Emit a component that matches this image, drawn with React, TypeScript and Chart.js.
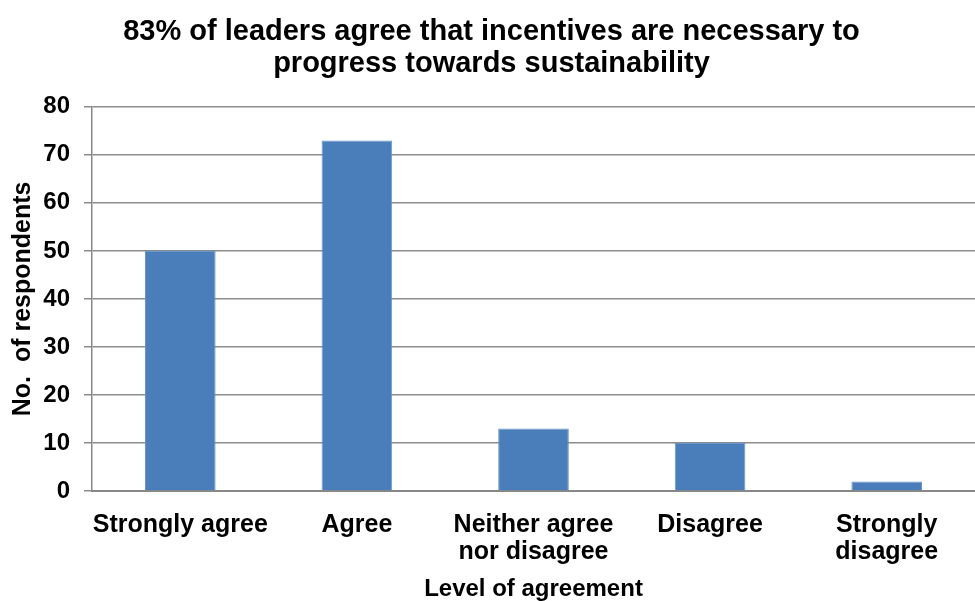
import React, { useEffect, useRef } from "react";
import { Chart, registerables } from "chart.js";

Chart.register(...registerables);

const titleLines = ["83% of leaders agree that incentives are necessary to", "progress towards sustainability"];
const categories: (string | string[])[] = [
  "Strongly agree",
  "Agree",
  ["Neither agree", "nor disagree"],
  "Disagree",
  ["Strongly", "disagree"],
];
const respondents = [50, 73, 13, 10, 2];
const yTitle = "No.  of respondents";
const xTitle = "Level of agreement";

export default function App() {
  const ref = useRef<HTMLCanvasElement | null>(null);
  useEffect(() => {
    document.body.style.margin = "0";
    const font = "'Liberation Sans', Arial, sans-serif";
    const chart = new Chart(ref.current!, {
      type: "bar",
      data: {
        labels: categories,
        datasets: [
          {
            data: respondents,
            backgroundColor: "#4a7ebb",
            borderColor: "#6a96cb",
            borderWidth: 1,
            barPercentage: 0.4,
            categoryPercentage: 1,
          },
        ],
      },
      options: {
        animation: false,
        responsive: false,
        maintainAspectRatio: false,
        layout: { padding: { top: 16, right: 0, bottom: 0, left: 8 } },
        plugins: {
          legend: { display: false },
          tooltip: { enabled: false },
          title: {
            display: true,
            text: titleLines,
            color: "#000",
            font: { family: font, size: 29, weight: "bold", lineHeight: 1.1 },
            padding: { top: 0, bottom: 27 },
          },
        },
        scales: {
          x: {
            grid: {
              display: true,
              drawOnChartArea: false,
              drawTicks: true,
              tickLength: 21,
              color: "rgba(0,0,0,0)",
            },
            border: { display: true, color: "#888", width: 2 },
            ticks: {
              color: "#000",
              font: { family: font, size: 25, weight: "bold", lineHeight: 1.08 },
              padding: 0,
              maxRotation: 0,
              autoSkip: false,
            },
            title: {
              display: true,
              text: xTitle,
              color: "#000",
              font: { family: font, size: 24, weight: "bold", lineHeight: 1.0 },
              padding: { top: 0, bottom: 0 },
            },
            afterFit: (scale: any) => {
              scale.height = 110;
            },
          },
          y: {
            min: 0,
            max: 80,
            ticks: {
              stepSize: 10,
              color: "#000",
              font: { family: font, size: 24, weight: "bold" },
              padding: 14,
            },
            grid: { color: "#8c8c8c", lineWidth: 1.5, tickLength: 8, drawTicks: true },
            border: { display: true, color: "#888", width: 1.5 },
            title: {
              display: true,
              text: yTitle,
              color: "#000",
              font: { family: font, size: 25, weight: "bold", lineHeight: 1.2 },
              padding: { top: 0, bottom: 0 },
            },
            afterFit: (scale: any) => {
              scale.width = 84;
            },
          },
        },
      },
    });
    return () => chart.destroy();
  }, []);
  return (
    <div style={{ position: "absolute", left: 0, top: 0, width: 975, height: 601 }}>
      <canvas ref={ref} width={975} height={601} style={{ width: 975, height: 601 }} />
    </div>
  );
}
